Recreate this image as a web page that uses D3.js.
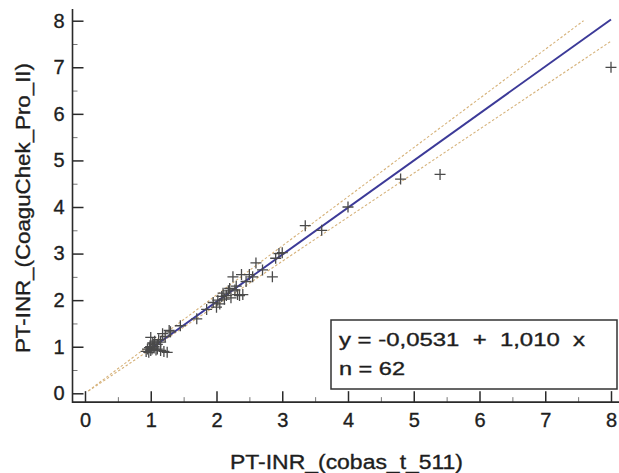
<!DOCTYPE html>
<html>
<head>
<meta charset="utf-8">
<script src="https://cdn.jsdelivr.net/npm/d3@7"></script>
<style>
  html, body { margin: 0; padding: 0; background: #fff; }
  svg { display: block; }
  text { font-family: "Liberation Sans", Arial, sans-serif; fill: #1e1e1e; stroke: #1e1e1e; stroke-width: 0.35px; }
</style>
</head>
<body>
<svg id="chart" width="619" height="473"></svg>
<script>
// Method comparison: PT-INR on cobas t 511 (x) vs CoaguChek Pro II (y)
const xValues = [
  0.93, 0.95, 0.97, 0.98, 1.00, 1.00, 1.00, 1.02, 1.03, 1.05, 1.05, 1.05, 1.06, 1.08,
  1.10, 1.10, 1.12, 1.15, 1.15, 1.18, 1.20, 1.22, 1.25, 1.28, 1.30,
  1.45, 1.70, 1.85, 1.95,
  2.00, 2.02, 2.05, 2.08, 2.10, 2.12, 2.15, 2.18, 2.20, 2.22, 2.25, 2.28, 2.30, 2.32,
  2.35, 2.38, 2.40, 2.45, 2.50, 2.55,
  2.60, 2.70, 2.85, 2.90, 2.95, 3.00, 3.35, 3.60, 4.00, 4.80, 5.40, 8.00
];
const yValues = [
  0.90, 0.95, 0.88, 0.98, 0.92, 1.00, 1.20, 0.95, 1.08, 1.00, 1.05, 0.97, 1.12, 0.93,
  0.95, 1.05, 1.15, 0.92, 1.10, 1.28, 0.90, 1.22, 0.88, 1.35, 1.32,
  1.45, 1.60, 1.80, 1.95,
  1.85, 2.00, 1.92, 2.08, 2.15, 2.02, 2.10, 2.20, 2.25, 2.05, 2.50, 2.22, 2.30, 2.12,
  2.10, 2.55, 2.12, 2.40, 2.55, 2.50,
  2.80, 2.65, 2.50, 2.90, 3.00, 3.02, 3.60, 3.50, 4.00, 4.60, 4.70, 7.00
];

// Fitted regression y = a + b x
const intercept = -0.0531;
const slope = 1.010;
const nPoints = 62;

// Dotted band lines fanning out from the origin region
const bandSlopes = [1.055, 0.945];
const bandStart = 0.05;

const majorTicks = [0, 1, 2, 3, 4, 5, 6, 7, 8];
const minorTicks = [0.5, 1.5, 2.5, 3.5, 4.5, 5.5, 6.5, 7.5];

const svg = d3.select("#chart");

const x = d3.scaleLinear().domain([0, 8]).range([85, 611]);
const y = d3.scaleLinear().domain([0, 8]).range([393.3, 20.7]);

const xMin = -0.19, xMax = 8.09;
const yMin = -0.19, yMax = 8.25;

const axisColor = "#2a2a2a";

// Clip to plotting frame
svg.append("clipPath").attr("id", "plotClip")
  .append("rect")
  .attr("x", x(xMin)).attr("y", y(yMax))
  .attr("width", x(xMax) - x(xMin)).attr("height", y(yMin) - y(yMax));

const plot = svg.append("g").attr("clip-path", "url(#plotClip)");

// Band lines: stop where they leave the 0..8 square
bandSlopes.forEach(s => {
  const xEnd = Math.min(8, 8 / s);
  plot.append("line")
    .attr("x1", x(bandStart)).attr("y1", y(s * bandStart))
    .attr("x2", x(xEnd)).attr("y2", y(s * xEnd))
    .attr("stroke", "#d6b27a")
    .attr("stroke-width", 1.1)
    .attr("stroke-dasharray", "2.5,2");
});

// Regression line across the observed x range
const xLo = d3.min(xValues), xHi = d3.max(xValues);
plot.append("line")
  .attr("x1", x(xLo)).attr("y1", y(intercept + slope * xLo))
  .attr("x2", x(xHi)).attr("y2", y(intercept + slope * xHi))
  .attr("stroke", "#3c3a98")
  .attr("stroke-width", 2);

// "+" markers
const pts = xValues.map((v, i) => [v, yValues[i]]);
const arm = 5.5;
const marks = plot.append("g")
  .attr("stroke", "#4a4a4a")
  .attr("stroke-width", 1.3)
  .attr("fill", "none");
marks.selectAll("path").data(pts).join("path")
  .attr("d", d => {
    const px = x(d[0]), py = y(d[1]);
    return `M${px - arm},${py}H${px + arm}M${px},${py - arm}V${py + arm}`;
  });

// Axes with inward ticks
const xAxisY = y(yMin);
const yAxisX = x(xMin);

const gx = svg.append("g").attr("transform", `translate(0,${xAxisY})`)
  .call(d3.axisBottom(x).tickValues(majorTicks).tickSize(-11).tickPadding(11)
    .tickFormat(d3.format("d")));
gx.select(".domain").remove();
gx.selectAll(".tick line").attr("stroke", axisColor).attr("stroke-width", 1.5);
gx.selectAll(".tick text").style("font-size", "20px").attr("fill", "#1e1e1e");

const gxm = svg.append("g").attr("transform", `translate(0,${xAxisY})`)
  .call(d3.axisBottom(x).tickValues(minorTicks).tickSize(-5).tickFormat(""));
gxm.select(".domain").remove();
gxm.selectAll(".tick line").attr("stroke", "#777").attr("stroke-width", 1);

const gy = svg.append("g").attr("transform", `translate(${yAxisX},0)`)
  .call(d3.axisLeft(y).tickValues(majorTicks).tickSize(-11).tickPadding(8)
    .tickFormat(d3.format("d")));
gy.select(".domain").remove();
gy.selectAll(".tick line").attr("stroke", axisColor).attr("stroke-width", 1.5);
gy.selectAll(".tick text").style("font-size", "20px").attr("fill", "#1e1e1e");

const gym = svg.append("g").attr("transform", `translate(${yAxisX},0)`)
  .call(d3.axisLeft(y).tickValues(minorTicks).tickSize(-5).tickFormat(""));
gym.select(".domain").remove();
gym.selectAll(".tick line").attr("stroke", "#777").attr("stroke-width", 1);

// Axis lines (left and bottom only)
svg.append("path")
  .attr("d", `M${yAxisX},${y(yMax)}V${xAxisY}H${x(xMax) + 6}`)
  .attr("fill", "none")
  .attr("stroke", axisColor)
  .attr("stroke-width", 1.6);

// Axis titles
svg.append("text")
  .attr("x", 230).attr("y", 469)
  .attr("textLength", 233)
  .attr("lengthAdjust", "spacingAndGlyphs")
  .style("font-size", "20px")
  .text("PT-INR_(cobas_t_511)");

svg.append("text")
  .attr("transform", "translate(30,353) rotate(-90)")
  .attr("textLength", 290)
  .attr("lengthAdjust", "spacingAndGlyphs")
  .style("font-size", "21px")
  .text("PT-INR_(CoaguChek_Pro_II)");

// Regression equation box
const box = svg.append("g");
box.append("rect")
  .attr("x", 331).attr("y", 320)
  .attr("width", 286).attr("height", 69)
  .attr("fill", "#fff")
  .attr("stroke", "#333")
  .attr("stroke-width", 1.5);

const fmtA = v => d3.format(".4f")(v).replace("\u2212", "-").replace(".", ",");
const fmtB = v => d3.format(".3f")(v).replace("\u2212", "-").replace(".", ",");
box.append("text")
  .attr("x", 339).attr("y", 346)
  .attr("textLength", 246)
  .attr("lengthAdjust", "spacingAndGlyphs")
  .attr("xml:space", "preserve")
  .style("white-space", "pre")
  .style("font-size", "17.5px")
  .text(`y = ${fmtA(intercept)}  +  ${fmtB(slope)}  x`);
box.append("text")
  .attr("x", 339).attr("y", 375)
  .attr("textLength", 66)
  .attr("lengthAdjust", "spacingAndGlyphs")
  .style("font-size", "17.5px")
  .text(`n = ${nPoints}`);
</script>
</body>
</html>
